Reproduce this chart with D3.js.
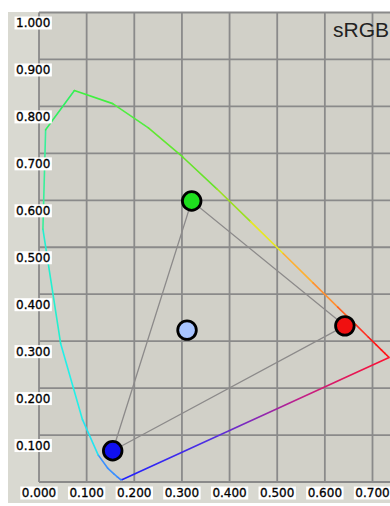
<!DOCTYPE html>
<html><head><meta charset="utf-8">
<script src="https://cdn.jsdelivr.net/npm/d3@7"></script>
<style>html,body{margin:0;padding:0;background:#fff;overflow:hidden}</style>
</head><body>
<script>
// ---- data ----
const wavelengths = [380,420,440,450,460,470,480,490,500,510,520,530,540,550,560,570,580,590,600,610,620,630,640,650,660,700];
const locusX = [0.1741,0.1714,0.1644,0.1566,0.1440,0.1241,0.0913,0.0454,0.0082,0.0139,0.0743,0.1547,0.2296,0.3016,0.3731,0.4441,0.5125,0.5752,0.6270,0.6658,0.6915,0.7079,0.7190,0.7260,0.7300,0.7347];
const locusY = [0.0050,0.0051,0.0109,0.0177,0.0297,0.0578,0.1327,0.2950,0.5384,0.7502,0.8338,0.8059,0.7543,0.6923,0.6245,0.5547,0.4866,0.4242,0.3725,0.3340,0.3083,0.2920,0.2809,0.2740,0.2700,0.2653];
const segmentColors = ["#2f6fff","#3580ff","#3a90ff","#3a90ff","#3a90ff","#22e4f0","#22f0e8","#22f0d0","#38f09a","#30f060","#40f040","#50ee40","#60e830","#66e42a","#9ce020","#e8e820","#ffb030","#ff9030","#ff6020","#ff3020","#ff1818","#ff1818","#ff1818","#ff1818","#ff1818"];
const purpleColors = ["#ff1030","#c0208a","#5030e0","#2020ff"];

const primaryNames = ["R","G","B","W"];
const primaryX = [0.642, 0.3205, 0.1547, 0.3107];
const primaryY = [0.3326, 0.5985, 0.0666, 0.3234];
const primaryFill = ["#f01010","#1ee01e","#1010f0","#a8c4ff"];

const xTicks = [0.0,0.1,0.2,0.3,0.4,0.5,0.6,0.7];
const yTicks = [0.1,0.2,0.3,0.4,0.5,0.6,0.7,0.8,0.9,1.0];
const gridX = [0.0,0.1,0.2,0.3,0.4,0.5,0.6,0.7];
const gridY = [0.0,0.1,0.2,0.3,0.4,0.5,0.6,0.7,0.8,0.9,1.0];
const title = "sRGB";

// ---- layout ----
const W = 390, H = 506;
const x = d3.scaleLinear().domain([0,0.7]).range([39,372.5]);
const y = d3.scaleLinear().domain([0,1]).range([482,12.5]);

const svg = d3.select("body").append("svg").attr("width",W).attr("height",H)
  .style("font-family","'DejaVu Sans', sans-serif");

// outer background
svg.append("rect").attr("x",8).attr("y",12).attr("width",W-8).attr("height",491).attr("fill","#d9d9d1");
// plot background
svg.append("rect").attr("x",x(0)).attr("y",y(1)).attr("width",W-x(0)).attr("height",y(0)-y(1)).attr("fill","#d1d0c8");

// grid
const grid = svg.append("g").attr("stroke","#8a8a8a").attr("stroke-width",1.8);
grid.selectAll("line.v").data(gridX).join("line").attr("class","v")
  .attr("x1",d=>x(d)).attr("x2",d=>x(d)).attr("y1",y(1)).attr("y2",y(0));
grid.selectAll("line.h").data(gridY).join("line").attr("class","h")
  .attr("x1",x(0)).attr("x2",W).attr("y1",d=>y(d)).attr("y2",d=>y(d));

// purple line gradient
const defs = svg.append("defs");
const last = locusX.length-1;
const grad = defs.append("linearGradient").attr("id","purp").attr("gradientUnits","userSpaceOnUse")
  .attr("x1",x(locusX[last])).attr("y1",y(locusY[last])).attr("x2",x(locusX[0])).attr("y2",y(locusY[0]));
purpleColors.forEach((c,i)=>grad.append("stop").attr("offset",i/(purpleColors.length-1)).attr("stop-color",c));

// spectral locus segments
const segs = d3.range(locusX.length-1).map(i=>({i}));
svg.append("g").selectAll("line").data(segs).join("line")
  .attr("x1",d=>x(locusX[d.i])).attr("y1",d=>y(locusY[d.i]))
  .attr("x2",d=>x(locusX[d.i+1])).attr("y2",d=>y(locusY[d.i+1]))
  .attr("stroke",d=>segmentColors[d.i]).attr("stroke-width",1.6).attr("stroke-linecap","round");
svg.append("line")
  .attr("x1",x(locusX[last])).attr("y1",y(locusY[last]))
  .attr("x2",x(locusX[0])).attr("y2",y(locusY[0]))
  .attr("stroke","url(#purp)").attr("stroke-width",1.6);

// gamut triangle
const tri = [0,1,2].map(i=>[x(primaryX[i]),y(primaryY[i])]);
svg.append("path").attr("d",d3.line()(tri)+"Z").attr("fill","none")
  .attr("stroke","#8c8a8a").attr("stroke-width",1.3);

// primaries
svg.append("g").selectAll("circle").data(primaryNames).join("circle")
  .attr("cx",(d,i)=>x(primaryX[i])).attr("cy",(d,i)=>y(primaryY[i])).attr("r",9.3)
  .attr("fill",(d,i)=>primaryFill[i]).attr("stroke","#000").attr("stroke-width",2.8);

// y labels
const fmt = d3.format(".3f");
const yl = svg.append("g");
yTicks.forEach(t=>{
  const g = yl.append("g");
  const txt = g.append("text").attr("x",16).attr("y",y(t)+10.5).attr("dy","0.35em")
    .attr("font-size",12).attr("fill","#000").attr("stroke","#000").attr("stroke-width",0.3).text(fmt(t));
  const w = txt.node().getComputedTextLength();
  g.insert("rect","text").attr("x",14.5).attr("y",y(t)+4).attr("width",w+3).attr("height",13).attr("fill","#fff");
});
// x labels
const xl = svg.append("g");
xTicks.forEach(t=>{
  const g = xl.append("g");
  const txt = g.append("text").attr("x",x(t)).attr("y",493).attr("dy","0.35em")
    .attr("text-anchor","middle").attr("font-size",12).attr("fill","#000").attr("stroke","#000").attr("stroke-width",0.3).text(fmt(t));
  const w = txt.node().getComputedTextLength();
  g.insert("rect","text").attr("x",x(t)-w/2-1.5).attr("y",486.5).attr("width",w+3).attr("height",13).attr("fill","#fff");
});

// title
svg.append("text").attr("x",389).attr("y",37).attr("text-anchor","end")
  .attr("font-family","'Liberation Sans', Arial, sans-serif").attr("font-size",21)
  .attr("fill","#222").text(title);
</script>
</body></html>
